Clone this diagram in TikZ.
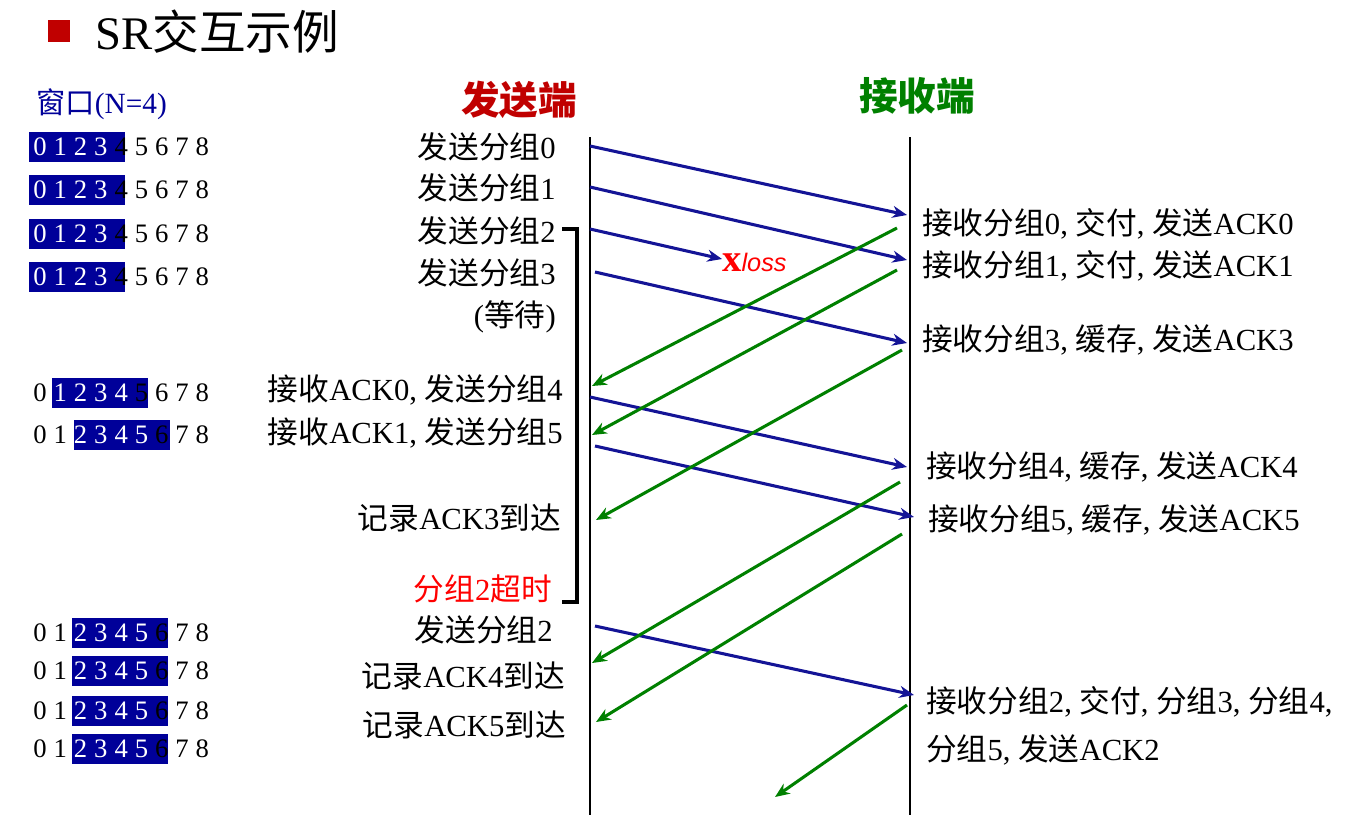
\documentclass[tikz,border=0pt]{standalone}
\usepackage{fontspec}
\setmainfont{Liberation Serif}
\newfontfamily\cjk{Noto Sans CJK SC}
\newfontfamily\lsans{Liberation Sans}
\usetikzlibrary{arrows.meta}
\definecolor{winblue}{RGB}{0,0,153}
\definecolor{arrblue}{RGB}{20,20,150}
\definecolor{arrgreen}{RGB}{0,128,0}
\definecolor{hdred}{RGB}{192,0,0}
\tikzset{
 lbl/.style={inner sep=0pt,font=\fontsize{23}{27}\selectfont},
 dig/.style={inner sep=0pt,font=\fontsize{20}{22}\selectfont},
 bmsg/.style={draw=arrblue,line width=2.3pt,-{Stealth[length=11pt,width=9pt]}},
 gmsg/.style={draw=arrgreen,line width=2.3pt,-{Stealth[length=11pt,width=9pt]}},
 tl/.style={line width=1pt}
}
\newcommand{\winrow}[4]{% y, boxstart px, first index in box, last index (black)
 \fill[winblue] (#2,#1-15) rectangle ++(96,30);
 \foreach \i in {0,...,8}{
  \pgfmathtruncatemacro{\inb}{(\i>=#3)&&(\i<#4)}
  \ifnum\inb=1 \node[dig,text=white] at (40+20.3*\i,#1) {\i};
  \else \node[dig] at (40+20.3*\i,#1) {\i};\fi
 }}
\begin{document}
\begin{tikzpicture}[x=0.75pt,y=-0.75pt]
\useasboundingbox (0,0) rectangle (1360,815);
% title
\fill[hdred] (48,20) rectangle (70,42);
\node[anchor=west,inner sep=0pt,font=\fontsize{35}{40}\selectfont] (title) at (95,32) {SR{\cjk 交互示例}};
\node[anchor=west,inner sep=0pt,text=winblue,font=\fontsize{22}{26}\selectfont] (win) at (36,104) {{\cjk 窗口}(N=4)};
\node[inner sep=0pt,text=hdred,font=\fontsize{29}{34}\selectfont\bfseries] (snd) at (519,100) {\cjk 发送端};
\node[inner sep=0pt,text=arrgreen,font=\fontsize{29}{34}\selectfont\bfseries] (rcv) at (917,96) {\cjk 接收端};
% windows
\winrow{147}{29}{0}{4}
\winrow{190}{29}{0}{4}
\winrow{234}{29}{0}{4}
\winrow{277}{29}{0}{4}
\winrow{393}{52}{1}{5}
\winrow{435}{74}{2}{6}
\winrow{633}{72}{2}{6}
\winrow{671}{72}{2}{6}
\winrow{711}{72}{2}{6}
\winrow{749}{72}{2}{6}
% timelines
\coordinate (s0) at (590,137); \coordinate (s1) at (590,815);
\coordinate (r0) at (910,137); \coordinate (r1) at (910,815);
\draw[tl] (s0)--(s1); \draw[tl] (r0)--(r1);
% sender labels
\node[lbl,anchor=east] at (556,147) {{\cjk 发送分组}0};
\node[lbl,anchor=east] at (556,188) {{\cjk 发送分组}1};
\node[lbl,anchor=east] at (556,231) {{\cjk 发送分组}2};
\node[lbl,anchor=east] at (556,273) {{\cjk 发送分组}3};
\node[lbl,anchor=east] at (556,317) {({\cjk 等待})};
\node[lbl,anchor=east] at (563,390) {{\cjk 接收}ACK0, {\cjk 发送分组}4};
\node[lbl,anchor=east] at (563,433) {{\cjk 接收}ACK1, {\cjk 发送分组}5};
\node[lbl,anchor=east] at (561,518) {{\cjk 记录}ACK3{\cjk 到达}};
\node[lbl,anchor=east,text=red] at (552,589) {{\cjk 分组}2{\cjk 超时}};
\node[lbl,anchor=east] at (553,630) {{\cjk 发送分组}2};
\node[lbl,anchor=east] at (565,676) {{\cjk 记录}ACK4{\cjk 到达}};
\node[lbl,anchor=east] at (566,725) {{\cjk 记录}ACK5{\cjk 到达}};
% receiver labels
\node[lbl,anchor=west] at (922,224) {{\cjk 接收分组}0, {\cjk 交付}, {\cjk 发送}ACK0};
\node[lbl,anchor=west] at (922,266) {{\cjk 接收分组}1, {\cjk 交付}, {\cjk 发送}ACK1};
\node[lbl,anchor=west] at (922,340) {{\cjk 接收分组}3, {\cjk 缓存}, {\cjk 发送}ACK3};
\node[lbl,anchor=west] at (926,467) {{\cjk 接收分组}4, {\cjk 缓存}, {\cjk 发送}ACK4};
\node[lbl,anchor=west] at (928,520) {{\cjk 接收分组}5, {\cjk 缓存}, {\cjk 发送}ACK5};
\node[lbl,anchor=west] at (926,702) {{\cjk 接收分组}2, {\cjk 交付}, {\cjk 分组}3, {\cjk 分组}4,};
\node[lbl,anchor=west] at (926,750) {{\cjk 分组}5, {\cjk 发送}ACK2};
% bracket
\coordinate (b0) at (562,229); \coordinate (b1) at (577,229);
\coordinate (b2) at (577,602); \coordinate (b3) at (562,602);
\draw[line width=2.5pt] (b0)--(b1)--(b2)--(b3);
% blue
\coordinate (a1s) at (590,146); \coordinate (a1e) at (907,215);
\coordinate (a2s) at (590,187); \coordinate (a2e) at (907,260);
\coordinate (a3s) at (590,229); \coordinate (a3e) at (722,259);
\coordinate (a4s) at (595,272); \coordinate (a4e) at (907,343);
\coordinate (a5s) at (590,397); \coordinate (a5e) at (907,467);
\coordinate (a6s) at (595,446); \coordinate (a6e) at (914,517);
\coordinate (a7s) at (595,626); \coordinate (a7e) at (914,695);
\foreach \k in {1,...,7}{\draw[bmsg] (a\k s)--(a\k e);}
\node[anchor=west,inner sep=0pt,text=red] (loss) at (722,262) {{\fontsize{29}{30}\selectfont\bfseries x}{\lsans\itshape\fontsize{19}{20}\selectfont loss}};
% green
\coordinate (g1s) at (897,228); \coordinate (g1e) at (592,386);
\coordinate (g2s) at (897,270); \coordinate (g2e) at (592,435);
\coordinate (g3s) at (902,350); \coordinate (g3e) at (596,520);
\coordinate (g4s) at (900,482); \coordinate (g4e) at (592,663);
\coordinate (g5s) at (902,534); \coordinate (g5e) at (596,722);
\coordinate (g6s) at (907,705); \coordinate (g6e) at (775,797);
\foreach \k in {1,...,6}{\draw[gmsg] (g\k s)--(g\k e);}
\end{tikzpicture}
\end{document}
